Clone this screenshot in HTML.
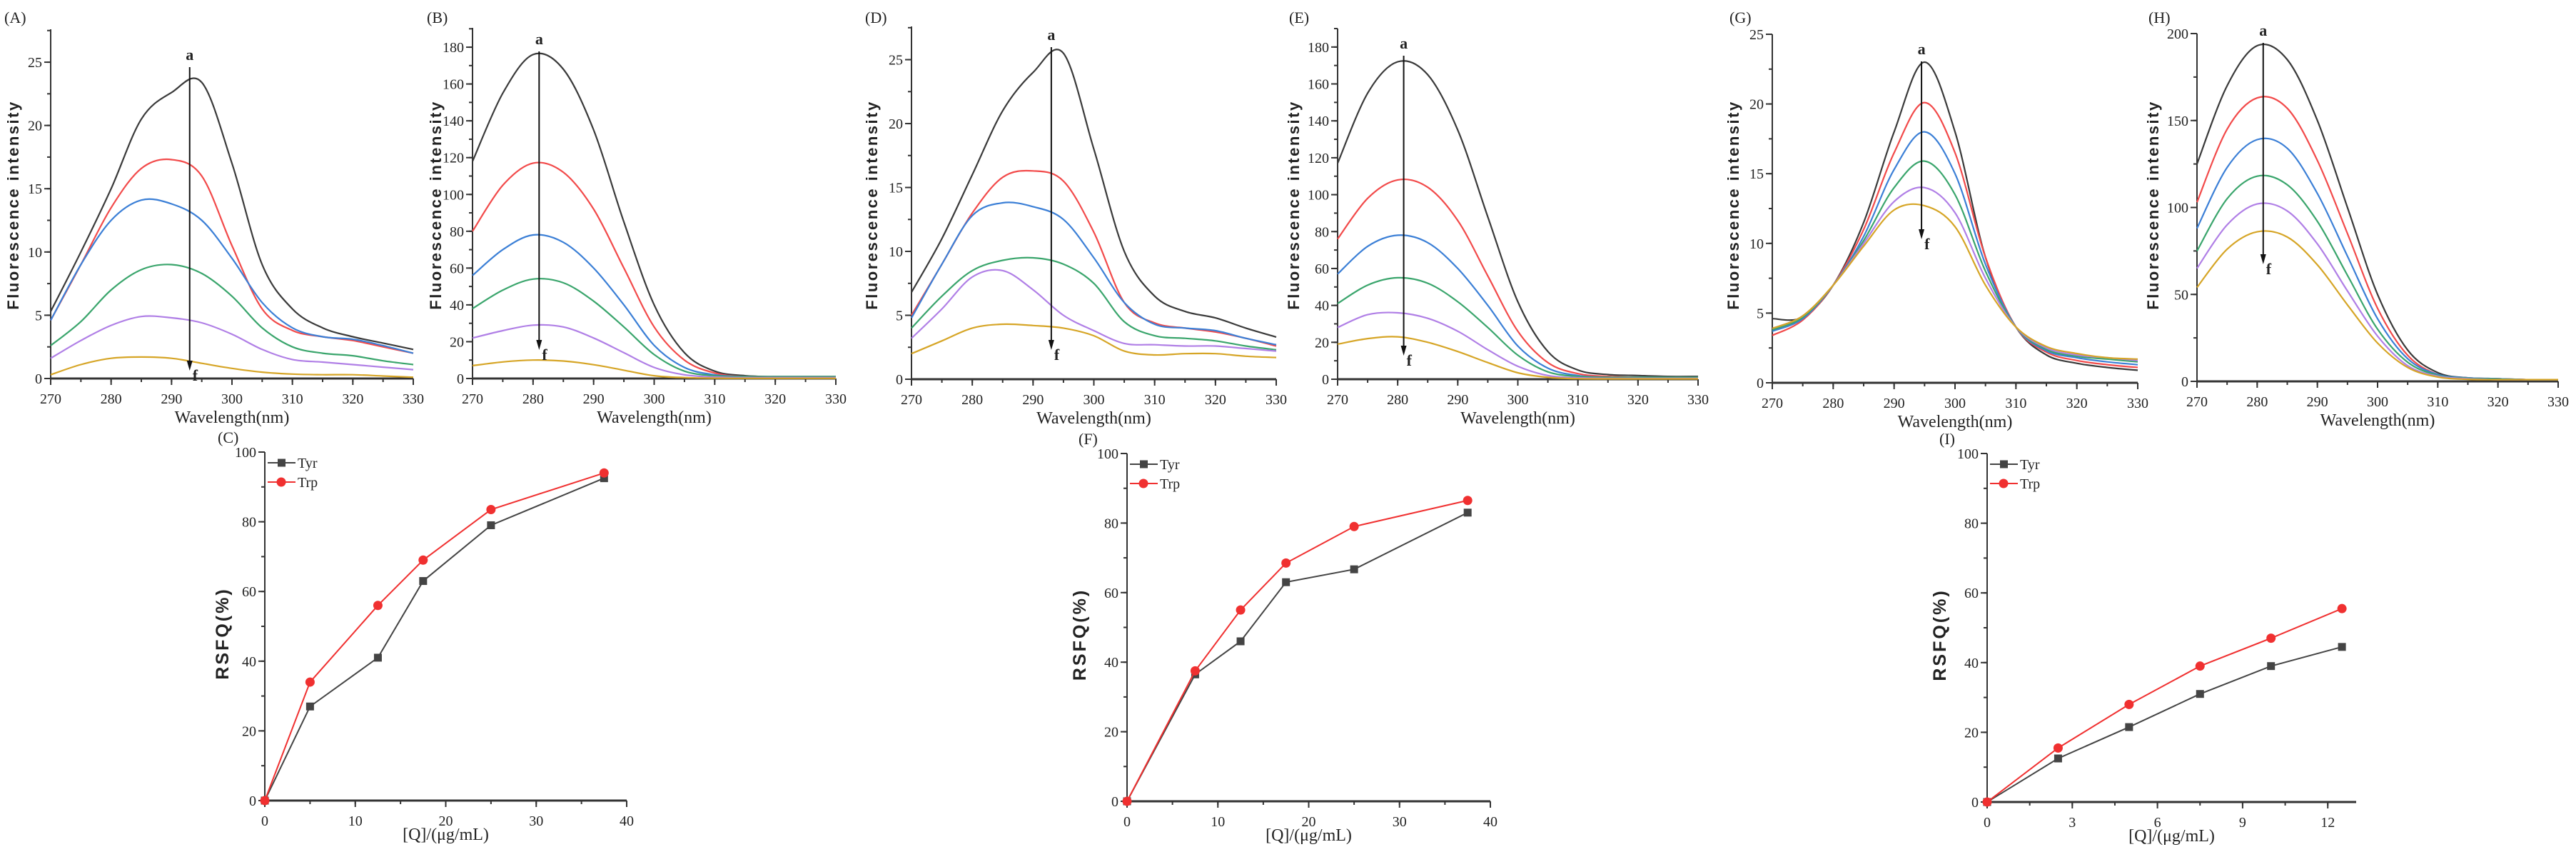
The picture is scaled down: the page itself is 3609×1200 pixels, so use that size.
<!DOCTYPE html>
<html><head><meta charset="utf-8">
<style>
html,body{margin:0;padding:0;background:#fff;}
svg{display:block;}
text{font-family:"Liberation Serif",serif;fill:#222;}
.tick{font-size:20px;}
.ttl{font-size:24px;}
.yt{font-family:"Liberation Sans",sans-serif;font-weight:bold;font-size:22px;letter-spacing:2.5px;}
.yr{font-family:"Liberation Sans",sans-serif;font-weight:bold;font-size:25px;letter-spacing:3px;}
.pl{font-size:22px;}
</style></head>
<body>
<svg id="fig" width="3609" height="1200" viewBox="0 0 3609 1200" xmlns="http://www.w3.org/2000/svg"></svg>
<script>
// ---------- Spectra data (wavelengths every 5 nm from 270 to 330) ----------
const wavelengths = [270,275,280,285,290,295,300,305,310,315,320,325,330];
const seriesColors = ["#3a3a3a","#f24a4a","#3b7fd6","#3aa56c","#b07fe6","#d6a526"];
const seriesNames = ["a","b","c","d","e","f"];
const specA = [
 [5.3,10,15,20.5,22.6,23.4,17,9,5.5,4,3.3,2.8,2.3],
 [4.6,9,13.5,16.6,17.3,16,10.5,5.5,3.8,3.3,3.0,2.5,2.0],
 [4.6,9,12.5,14.1,13.8,12.5,9.5,6,4,3.3,3.1,2.6,2.0],
 [2.6,4.5,7,8.6,9,8.3,6.5,4,2.5,2.0,1.8,1.4,1.1],
 [1.6,3,4.2,4.9,4.8,4.4,3.5,2.3,1.5,1.3,1.1,0.9,0.7],
 [0.3,1.1,1.6,1.7,1.6,1.2,0.8,0.5,0.35,0.3,0.3,0.2,0.1]];
const specB = [
 [118,155,176,168,135,85,40,14,4,1.5,1,1,1],
 [80,105,117,112,92,60,28,10,3,1,1,1,1],
 [56,70,78,74,60,40,18,6,2,1,1,1,1],
 [38,48,54,52,42,28,13,4,1.5,1,1,1,1],
 [22,26,29,28,22,14,6,2,0.8,0.5,0.5,0.5,0.5],
 [7,9,10,9.5,7.5,4.5,1.5,0.5,0.2,0.1,0.1,0.1,0.1]];
const specD = [
 [6.8,11,16,21,24,25.5,18,10,6.5,5.3,4.8,4,3.3],
 [5,9,13,15.8,16.3,15.5,11.5,6,4.4,4.0,3.7,3.2,2.6],
 [4.8,9,12.8,13.8,13.5,12.5,9.5,6,4.3,4.0,3.8,3.2,2.7],
 [4,6.5,8.5,9.3,9.5,9,7.5,4.5,3.4,3.2,3.0,2.6,2.3],
 [3.2,5.5,8,8.5,7,5,3.8,2.8,2.7,2.6,2.6,2.4,2.2],
 [2,3,4,4.3,4.2,4,3.4,2.2,1.9,2,2,1.8,1.7]];
const specE = [
 [117,155,172,165,135,88,42,15,5,2.5,2,1.5,1.5],
 [76,98,108,104,86,56,26,9,3,1.5,1,1,1],
 [57,72,78,74,60,40,18,6,2,1,1,1,1],
 [41,51,55,52,42,28,13,4,1.5,1,1,1,1],
 [28,35,36,33,26,16,7,2,0.8,0.5,0.5,0.5,0.5],
 [19,22,23,20,15,9,3.5,1,0.3,0.2,0.2,0.2,0.2]];
const specG = [
 [4.6,4.7,7,11.5,18,23,18,9,4,2,1.4,1.1,0.9],
 [3.4,4.5,7,11,16.5,20.1,16.5,9,4,2.2,1.6,1.3,1.1],
 [3.7,4.6,7,10.5,15.3,18,15,8.5,4,2.3,1.8,1.5,1.3],
 [3.8,4.7,7,10.2,14,15.9,13.5,8,4,2.4,1.9,1.7,1.5],
 [3.9,4.8,7,10,13,14,12.2,7.5,4,2.5,2.0,1.8,1.6],
 [3.9,4.8,7,9.8,12.4,12.7,11.2,7,4,2.6,2.1,1.8,1.7]];
const specH = [
 [125,170,193,185,150,100,50,18,5,2,1.5,1,1],
 [103,145,163,157,127,85,42,15,4,2,1.5,1,1],
 [88,123,139,134,108,72,36,13,4,2,1.5,1,1],
 [75,105,118,113,92,61,30,11,3.5,1.8,1.3,1,1],
 [65,90,102,98,79,52,26,9,3,1.5,1,1,1],
 [54,76,86,83,67,44,22,8,2.5,1.2,1,1,1]];
const yTicksA = [0,5,10,15,20,25];
const yTicksB = [0,20,40,60,80,100,120,140,160,180];
const yTicksH = [0,50,100,150,200];
const xTicksSpec = [270,280,290,300,310,320,330];

// ---------- RSFQ data ----------
const concC = [0,5,12.5,17.5,25,37.5];
const tyrC = [0,27,41,63,79,92.5];
const trpC = [0,34,56,69,83.5,94];
const concF = [0,7.5,12.5,17.5,25,37.5];
const tyrF = [0,36.5,46,63,66.7,83];
const trpF = [0,37.5,55,68.5,79,86.5];
const concI = [0,2.5,5,7.5,10,12.5];
const tyrI = [0,12.5,21.5,31,39,44.5];
const trpI = [0,15.5,28,39,47,55.5];
const xTicksCF = [0,10,20,30,40];
const xTicksI = [0,3,6,9,12];
const yTicksR = [0,20,40,60,80,100];

const NS="http://www.w3.org/2000/svg";
const svg=document.getElementById('fig');
function el(tag,attrs,parent,txt){const e=document.createElementNS(NS,tag);for(const k in attrs)e.setAttribute(k,attrs[k]);if(txt!==undefined)e.textContent=txt;(parent||svg).appendChild(e);return e;}
function smooth(pts){let d='M'+pts[0][0].toFixed(1)+','+pts[0][1].toFixed(1);for(let i=0;i<pts.length-1;i++){const p0=pts[Math.max(0,i-1)],p1=pts[i],p2=pts[i+1],p3=pts[Math.min(pts.length-1,i+2)];const c1=[p1[0]+(p2[0]-p0[0])/6,p1[1]+(p2[1]-p0[1])/6],c2=[p2[0]-(p3[0]-p1[0])/6,p2[1]-(p3[1]-p1[1])/6];d+=' C'+c1[0].toFixed(1)+','+c1[1].toFixed(1)+' '+c2[0].toFixed(1)+','+c2[1].toFixed(1)+' '+p2[0].toFixed(1)+','+p2[1].toFixed(1);}return d;}

function axes(g,o){
  const sx=v=>o.x0+(v-o.xmin)/(o.xmax-o.xmin)*(o.x1-o.x0);
  const sy=v=>o.y0-(v-o.ymin)/(o.ymax-o.ymin)*(o.y0-o.yTop);
  const ax=el('line',{x1:o.x0,y1:o.y0,x2:o.x1,y2:o.y0,stroke:'#333','stroke-width':3},g);
  
  
  const ay=el('line',{x1:o.x0,y1:o.y0,x2:o.x0,y2:o.yTop,stroke:'#333','stroke-width':2},g);
  
  
  for(let v=o.xmin;v<=o.xmax+1e-9;v+=o.xminor){const X=sx(v);el('line',{x1:X,y1:o.y0,x2:X,y2:o.y0+5,stroke:'#333','stroke-width':2},g);}
  for(let v=o.ymin;v<=o.ymax+1e-9;v+=o.yminor){const Y=sy(v);el('line',{x1:o.x0,y1:Y,x2:o.x0-5,y2:Y,stroke:'#333','stroke-width':2},g);}
  o.xticks.forEach(v=>{const X=sx(v);el('line',{x1:X,y1:o.y0,x2:X,y2:o.y0+9,stroke:'#333','stroke-width':2},g);
    const t=el('text',{x:X,y:o.y0+35,'text-anchor':'middle',class:'tick'},g,String(v));
    
    });
  o.yticks.forEach(v=>{const Y=sy(v);el('line',{x1:o.x0,y1:Y,x2:o.x0-9,y2:Y,stroke:'#333','stroke-width':2},g);
    const t=el('text',{x:o.x0-12,y:Y+7,'text-anchor':'end',class:'tick'},g,String(v));
    
    });
  return {sx,sy};
}

function spectrum(id,label,lx,ly,x0,x1,y0,yTop,ymax,yticks,yminor,data,arrowX,aY,fY,ytX){
  const g=el('g',{});
  
  
  const {sx,sy}=axes(g,{x0,x1,y0,yTop,xmin:270,xmax:330,ymin:0,ymax,xticks:xTicksSpec,yticks,xminor:5,yminor});
  data.forEach((s,i)=>{const p=el('path',{d:smooth(s.map((v,j)=>[sx(wavelengths[j]),sy(v)])),fill:'none',stroke:seriesColors[i],'stroke-width':2.2},g);
    
    });
  const AX=sx(arrowX);
  el('line',{x1:AX,y1:aY+10,x2:AX,y2:fY-22,stroke:'#111','stroke-width':2},g);
  el('path',{d:`M${AX-4},${fY-24} L${AX+4},${fY-24} L${AX},${fY-10} Z`,fill:'#111'},g);
  const ta=el('text',{x:AX,y:aY,'text-anchor':'middle',style:'font-size:22px;font-weight:bold'},g,'a');
  
  
  const tf=el('text',{x:AX+4,y:fY+4,'text-anchor':'start',style:'font-size:22px;font-weight:bold'},g,'f');
  
  
  const pl=el('text',{x:lx,y:ly,class:'pl'},g,'('+label+')');
  
  
  const yt=el('text',{x:0,y:0,'text-anchor':'middle',class:'yt',transform:`translate(${ytX},287) rotate(-90)`},g,'Fluorescence intensity');
  
  
  const xt=el('text',{x:(x0+x1)/2,y:y0+62,'text-anchor':'middle',class:'ttl'},g,'Wavelength(nm)');
  
  
}

spectrum('A','A',6,32,71,579,530,41,27.6,yTicksA,2.5,specA,293,84,529,26);
spectrum('B','B',598,32,662,1171,530,39,190.5,yTicksB,10,specB,281,62,500,618);
spectrum('D','D',1212,32,1277,1788,531,37,27.6,yTicksA,2.5,specD,293,56,500,1229);
spectrum('E','E',1806,32,1874,2379,531,40,190,yTicksB,10,specE,281,68,508,1820);
spectrum('G','G',2423,32,2483,2995,536,48,25,yTicksA,2.5,specG,294.5,76,345,2436);
spectrum('H','H',3010,32,3078,3584,534,47,200,yTicksH,25,specH,281,50,380,3024);

function rsfq(id,lx,ly,x0,x1,y0,yTop,xmax,xticks,xminor,conc,tyr,trp,ytX){
  const g=el('g',{});
  
  
  const {sx,sy}=axes(g,{x0,x1,y0,yTop,xmin:0,xmax,ymin:0,ymax:100,xticks,yticks:yTicksR,xminor,yminor:10});
  [[tyr,'#444','Tyr'],[trp,'#f03030','Trp']].forEach(([arr,c,n],k)=>{
    const pts=arr.map((v,j)=>[sx(conc[j]),sy(v)]);
    const pl=el('polyline',{points:pts.map(p=>p.join(',')).join(' '),fill:'none',stroke:c,'stroke-width':2},g);
    
    
    pts.forEach(p=>{let m;
      if(k===0) m=el('rect',{x:p[0]-5.5,y:p[1]-5.5,width:11,height:11,fill:c},g);
      else m=el('circle',{cx:p[0],cy:p[1],r:6.5,fill:c},g);
      
      });
    const ly2=yTop+15+k*27;
    const lg=el('g',{},g);
    
    
    el('line',{x1:x0+4,y1:ly2,x2:x0+43,y2:ly2,stroke:c,'stroke-width':2},lg);
    if(k===0) el('rect',{x:x0+18,y:ly2-5.5,width:11,height:11,fill:c},lg);
    else el('circle',{cx:x0+23,cy:ly2,r:6.5,fill:c},lg);
    el('text',{x:x0+46,y:ly2+7,style:'font-size:20px'},lg,n);
  });
  const pl=el('text',{x:lx,y:ly,class:'pl'},g,'('+id+')');
  
  
  const yt=el('text',{x:0,y:0,'text-anchor':'middle',class:'yr',transform:`translate(${ytX},${(y0+yTop)/2+10}) rotate(-90)`},g,'RSFQ(%)');
  
  
  const xt=el('text',{x:(x0+sx(xmax))/2,y:y0+55,'text-anchor':'middle',class:'ttl'},g,'[Q]/(μg/mL)');
  
  
}
rsfq('C',305,620,371,878,1121,633,40,xTicksCF,5,concC,tyrC,trpC,320);
rsfq('F',1511,622,1579,2088,1122,635,40,xTicksCF,5,concF,tyrF,trpF,1521);
rsfq('I',2717,622,2784,3301,1123,635,13,xTicksI,1.5,concI,tyrI,trpI,2726);
</script>
</body></html>
